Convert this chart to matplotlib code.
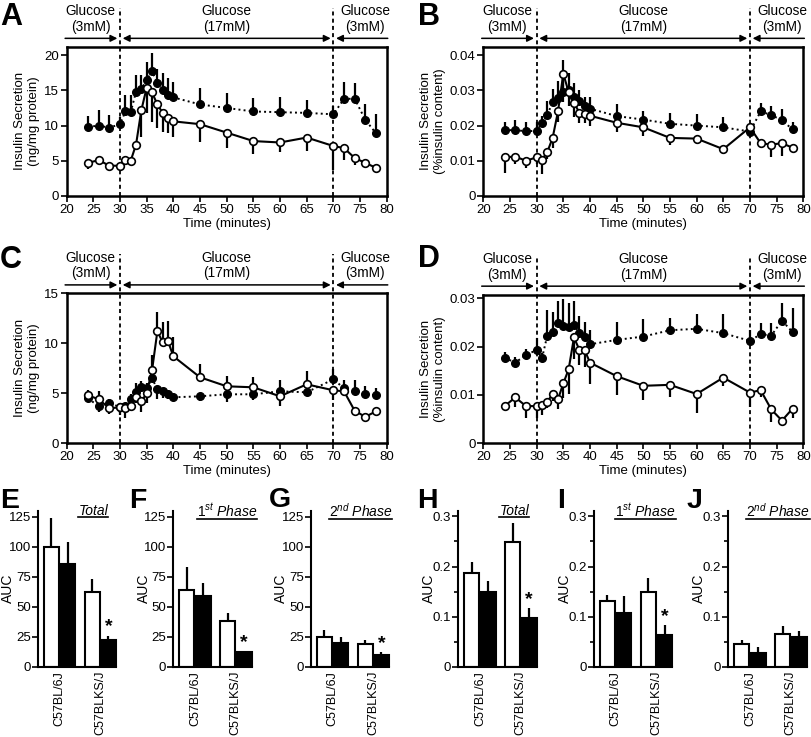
import numpy as np
import matplotlib
matplotlib.use("Agg")
import matplotlib.pyplot as plt
from matplotlib.ticker import FuncFormatter, MultipleLocator
from matplotlib.lines import Line2D

plt.rcParams['font.family'] = ['Liberation Sans', 'DejaVu Sans']
plt.rcParams['mathtext.fontset'] = 'custom'
plt.rcParams['mathtext.rm'] = 'Liberation Sans'
plt.rcParams['mathtext.it'] = 'Liberation Sans:italic'

# ==========================
# Perifusion time course data
# ==========================

minutes = [24, 26, 28, 30, 31, 32, 33, 34, 35, 36, 37, 38,
           39, 40, 45, 50, 55, 60, 65, 70, 72, 74, 76, 78]

# sign of error = direction of the one-sided bar (+ up, - down)
a_closed = [9.8, 10.0, 9.7, 10.2, 12.0, 11.9, 14.8, 15.2, 16.5, 17.7, 16.0, 15.1,
            14.3, 14.0, 13.0, 12.5, 12.0, 11.9, 11.8, 11.6, 13.8, 13.8, 10.8, 8.9]
a_closed_err = [1.5, 2.2, 1.8, 1.0, 2.3, 2.4, 2.4, 2.0, 2.5, 2.6, 2.1, 2.4,
                2.5, 2.2, 2.4, 2.1, 1.9, 2.2, 1.9, 1.2, 2.4, 2.3, 2.3, 2.8]
a_open = [4.7, 5.1, 4.3, 4.3, 5.1, 5.0, 7.3, 12.2, 15.4, 14.7, 13.0, 11.8,
          11.1, 10.6, 10.2, 9.0, 7.8, 7.6, 8.3, 7.1, 6.8, 5.4, 4.7, 4.0]
a_open_err = [-0.9, -0.3, -0.2, -0.3, -0.3, -0.4, -0.8, -3.8, -3.6, -4.2, -3.4, -2.7,
              -2.1, -2.2, -2.6, -2.2, -1.8, -1.3, -1.9, -3.4, -1.7, -1.0, -0.4, -0.4]

b_closed = [0.0187, 0.0187, 0.0184, 0.0185, 0.0207, 0.0229, 0.0268, 0.0278, 0.0295, 0.0300, 0.0280, 0.0270,
            0.0255, 0.0248, 0.0227, 0.0217, 0.0205, 0.0200, 0.0195, 0.0183, 0.0240, 0.0230, 0.0215, 0.0189]
b_closed_err = [0.0022, 0.0029, 0.0025, 0.0025, 0.0020, 0.0040, 0.0035, 0.0050, 0.0092, 0.0050, 0.0040, 0.0030,
                0.0027, 0.0032, 0.0034, 0.0025, 0.0032, 0.0033, 0.0030, 0.0010, 0.0023, 0.0027, 0.0032, 0.0022]
b_open = [0.0110, 0.0112, 0.0100, 0.0110, 0.0103, 0.0125, 0.0165, 0.0240, 0.0347, 0.0295, 0.0265, 0.0237,
          0.0232, 0.0228, 0.0208, 0.0195, 0.0165, 0.0163, 0.0133, 0.0195, 0.0150, 0.0146, 0.0150, 0.0137]
b_open_err = [-0.0045, -0.0020, -0.0020, -0.0020, -0.0040, -0.0020, -0.0030, -0.0030, -0.0080, -0.0040, -0.0040, -0.0030,
              -0.0025, -0.0030, -0.0025, -0.0025, -0.0020, -0.0015, -0.0015, -0.0020, -0.0015, -0.0035, -0.0035, -0.0010]

c_closed = [4.5, 3.7, 4.05, 3.6, 3.7, 4.4, 5.1, 5.6, 5.5, 6.5, 5.4, 5.2,
            4.9, 4.6, 4.7, 4.9, 4.9, 5.2, 5.1, 6.4, 5.5, 5.2, 4.9, 4.8]
c_closed_err = [-0.4, -0.6, 0.4, -0.8, -0.6, 0.5, 0.9, 0.6, 0.5, 0.6, -1.0, -0.7,
                -0.5, -0.3, -0.5, -0.8, -0.6, 1.1, -0.4, 1.0, 0.8, 1.1, 0.8, 0.7]
c_open = [4.8, 4.4, 3.5, 3.6, 3.5, 3.7, 4.6, 4.2, 5.0, 7.3, 11.2, 10.1,
          10.2, 8.7, 6.6, 5.7, 5.6, 4.7, 5.9, 5.3, 5.2, 3.25, 2.65, 3.2]
c_open_err = [0.5, 0.8, -0.6, -0.6, -1.0, -0.5, -0.6, -1.1, -1.0, 1.5, 1.9, 2.0,
              2.0, 1.9, 1.3, 1.0, 1.0, -1.0, 1.3, -1.0, -0.5, -0.4, -0.3, -0.3]

d_closed = [0.0177, 0.0167, 0.0183, 0.0193, 0.0176, 0.0223, 0.0231, 0.0250, 0.0243, 0.0241, 0.0245, 0.0229,
            0.0221, 0.0205, 0.0214, 0.0221, 0.0234, 0.0237, 0.0228, 0.0212, 0.0226, 0.0223, 0.0254, 0.0230]
d_closed_err = [0.0012, 0.0012, 0.0012, 0.0025, 0.0010, 0.0053, 0.0040, 0.0045, 0.0055, 0.0050, 0.0050, 0.0035,
                0.0030, 0.0030, 0.0038, 0.0036, 0.0025, 0.0030, 0.0040, 0.0023, 0.0022, 0.0027, 0.0036, 0.0050]
d_open = [0.0077, 0.0095, 0.0077, 0.0077, 0.0079, 0.0086, 0.0102, 0.0091, 0.0124, 0.0153, 0.0219, 0.0194,
          0.0193, 0.0167, 0.0139, 0.0119, 0.0121, 0.0102, 0.0136, 0.0105, 0.0110, 0.0070, 0.0047, 0.0072]
d_open_err = [-0.0007, -0.0020, -0.0025, -0.0025, -0.0020, -0.0012, -0.0015, -0.0020, -0.0030, -0.0050, -0.0045, -0.0032,
              -0.0035, -0.0045, -0.0040, -0.0030, -0.0025, -0.0040, -0.0018, -0.0030, -0.0015, -0.0025, -0.0005, -0.0020]

phase_bounds = [30, 70]
phase_labels = ["Glucose\n(3mM)", "Glucose\n(17mM)", "Glucose\n(3mM)"]
phase_label_x = [24.5, 50, 76]

# ==========================
# AUC data
# ==========================

strains = ["C57BL/6J", "C57BLKS/J"]

e_open, e_open_err = [100, 62], [24, 11]
e_closed, e_closed_err = [86, 22], [18, 4]
f_open, f_open_err = [64, 38], [19, 7]
f_closed, f_closed_err = [59, 12], [11, 1.2]
g_open, g_open_err = [25, 19], [6, 3]
g_closed, g_closed_err = [20, 10], [5, 2]

h_open, h_open_err = [0.188, 0.249], [0.022, 0.037]
h_closed, h_closed_err = [0.149, 0.098], [0.023, 0.019]
i_open, i_open_err = [0.131, 0.150], [0.013, 0.027]
i_closed, i_closed_err = [0.108, 0.063], [0.033, 0.020]
j_open, j_open_err = [0.045, 0.065], [0.008, 0.017]
j_closed, j_closed_err = [0.027, 0.060], [0.012, 0.012]

# ==========================
# Figure
# ==========================

W, H = 812, 737
fig = plt.figure(figsize=(W / 100, H / 100), dpi=100)


def axes_px(left, top, right, bottom):
    return fig.add_axes([left / W, 1 - bottom / H,
                         (right - left) / W, (bottom - top) / H])


def split_err(err):
    err = np.asarray(err, dtype=float)
    return [np.where(err < 0, -err, 0), np.where(err > 0, err, 0)]


def zero_fmt(v, pos):
    return '0' if abs(v) < 1e-12 else f'{v:g}'


def time_panel(ax, closed, closed_err, opened, opened_err, ytop, ystep, ylabel):
    ax.errorbar(minutes, closed, yerr=split_err(closed_err), fmt='none',
                ecolor='black', elinewidth=1.6, capsize=0, zorder=2)
    ax.plot(minutes, closed, color='black', ls=':', lw=1.4, marker='o',
            ms=5.5, mfc='black', mec='black', zorder=3)
    ax.errorbar(minutes, opened, yerr=split_err(opened_err), fmt='none',
                ecolor='black', elinewidth=1.6, capsize=0, zorder=2)
    ax.plot(minutes, opened, color='black', ls='-', lw=1.5, marker='o',
            ms=5.5, mfc='white', mec='black', mew=1.2, zorder=4)

    ax.set_xlim(20, 80)
    ax.set_ylim(0, ytop)
    ax.xaxis.set_major_locator(MultipleLocator(5))
    ax.yaxis.set_major_locator(MultipleLocator(ystep))
    ax.yaxis.set_major_formatter(FuncFormatter(zero_fmt))
    for s in ax.spines.values():
        s.set_linewidth(1.8)
    ax.tick_params(direction='out', length=4, width=1.2, labelsize=9.5,
                   pad=1.5, top=False, right=False)
    ax.set_xlabel("Time (minutes)", fontsize=9.5, labelpad=1.5)
    ax.set_ylabel(ylabel, fontsize=9.5, labelpad=3)

    # glucose switch markers
    for b in phase_bounds:
        ax.axvline(b, ymin=0, ymax=1.26, color='black', lw=1.3,
                   ls=(0, (2.2, 1.8)), clip_on=False, zorder=1)

    arrow_y = 1.056
    trans = ('data', 'axes fraction')
    spans = [(19.7, 29.5, '-|>'), (30.5, 69.5, '<|-|>'), (80.2, 70.5, '-|>')]
    for x0, x1, style in spans:
        ax.annotate('', xy=(x1, arrow_y), xytext=(x0, arrow_y), xycoords=trans,
                    textcoords=trans, annotation_clip=False,
                    arrowprops=dict(arrowstyle=style, color='black', lw=1.1,
                                    shrinkA=0, shrinkB=0, mutation_scale=10))
    for lx, lab in zip(phase_label_x, phase_labels):
        ax.text(lx, 1.185, lab, transform=ax.get_xaxis_transform(),
                ha='center', va='center', fontsize=9.8, linespacing=1.15)


ax_a = axes_px(66.7, 46.7, 386.7, 196)
time_panel(ax_a, a_closed, a_closed_err, a_open, a_open_err, 21.2, 5,
           "Insulin Secretion\n(ng/mg protein)")

ax_b = axes_px(483.3, 46.7, 803.3, 196)
time_panel(ax_b, b_closed, b_closed_err, b_open, b_open_err, 0.0424, 0.01,
           "Insulin Secretion\n(%insulin content)")

ax_c = axes_px(66.7, 293.3, 386.7, 443.3)
time_panel(ax_c, c_closed, c_closed_err, c_open, c_open_err, 15.0, 5,
           "Insulin Secretion\n(ng/mg protein)")

ax_d = axes_px(483.3, 294.5, 803.3, 443.3)
time_panel(ax_d, d_closed, d_closed_err, d_open, d_open_err, 0.0308, 0.01,
           "Insulin Secretion\n(%insulin content)")

# ==========================
# AUC bar panels
# ==========================

titles = []


def auc_panel(ax, opn, opn_err, cls, cls_err, ytop, ystep, minor, title, tx, star):
    x = np.arange(len(strains))
    ax.errorbar(x - 0.2, opn, yerr=[np.zeros(2), opn_err], fmt='none',
                ecolor='black', elinewidth=1.6, capsize=0, zorder=1)
    ax.errorbar(x + 0.2, cls, yerr=[np.zeros(2), cls_err], fmt='none',
                ecolor='black', elinewidth=1.6, capsize=0, zorder=1)
    ax.bar(x - 0.2, opn, width=0.37, color='white', edgecolor='black',
           lw=1.5, zorder=2)
    ax.bar(x + 0.2, cls, width=0.37, color='black', edgecolor='black',
           lw=1.5, zorder=2)
    if star:
        ax.text(x[1] + 0.2, cls[1] + cls_err[1] + 0.055 * ytop, '*',
                ha='center', va='center', fontsize=14, fontweight='bold')

    ax.set_xlim(-0.53, 1.5)
    ax.set_ylim(0, ytop)
    ax.set_xticks(x, strains, rotation=90, fontsize=9)
    ax.yaxis.set_major_locator(MultipleLocator(ystep))
    if minor:
        ax.yaxis.set_minor_locator(MultipleLocator(minor))
    ax.yaxis.set_major_formatter(FuncFormatter(zero_fmt))
    ax.tick_params(axis='x', length=0, pad=3)
    ax.tick_params(axis='y', which='both', direction='out', width=1.2,
                   labelsize=9.5, pad=1)
    ax.tick_params(axis='y', which='major', length=4)
    ax.tick_params(axis='y', which='minor', length=3)
    ax.spines['top'].set_visible(False)
    ax.spines['right'].set_visible(False)
    ax.spines['left'].set_linewidth(1.5)
    ax.spines['bottom'].set_linewidth(1.5)
    ax.spines['bottom'].set_bounds(-0.53, 1.385)
    ax.set_ylabel("AUC", fontsize=10)
    ax.yaxis.set_label_coords(-0.27, 0.5)
    t = ax.text(tx, 1.0, title, transform=ax.transAxes, ha='center',
                va='center', fontsize=10, fontstyle='italic')
    titles.append(t)


bar_top, bar_bottom, bar_w = 510.7, 666.7, 83
panels = [
    (37.7, e_open, e_open_err, e_closed, e_closed_err, 130, 25, None, "Total", 0.67, True),
    (173.3, f_open, f_open_err, f_closed, f_closed_err, 130, 25, None, r"$\mathit{1^{st}}$ Phase", 0.65, True),
    (310.7, g_open, g_open_err, g_closed, g_closed_err, 130, 25, None, r"$\mathit{2^{nd}}$ Phase", 0.6, True),
    (458.3, h_open, h_open_err, h_closed, h_closed_err, 0.3115, 0.1, 0.05, "Total", 0.675, True),
    (594.0, i_open, i_open_err, i_closed, i_closed_err, 0.3115, 0.1, 0.05, r"$\mathit{1^{st}}$ Phase", 0.62, True),
    (728.3, j_open, j_open_err, j_closed, j_closed_err, 0.3115, 0.1, 0.05, r"$\mathit{2^{nd}}$ Phase", 0.6, False),
]
for left, *args in panels:
    ax = axes_px(left, bar_top, left + bar_w, bar_bottom)
    auc_panel(ax, *args)

# ==========================
# Panel letters
# ==========================

letters = [("A", 0, 25, 22), ("B", 418, 25, 22), ("C", 0, 268, 22), ("D", 418, 267, 22),
           ("E", 0, 508, 20.5), ("F", 129, 508, 20.5), ("G", 269, 507, 20.5),
           ("H", 417, 508, 20.5), ("I", 557, 508, 20.5), ("J", 687, 508, 20.5)]
for lab, lx, ly, fs in letters:
    fig.text(lx / W, 1 - ly / H, lab, fontsize=fs, fontweight='bold',
             va='baseline', ha='left')

# ==========================
# Underline the AUC titles
# ==========================

fig.canvas.draw()
for t in titles:
    bb = t.get_window_extent().transformed(fig.transFigure.inverted())
    y = bb.y0 + 1.0 / H
    fig.add_artist(Line2D([bb.x0, bb.x1], [y, y], color='black', lw=1.2))

fig.savefig("out.png", dpi=100)
